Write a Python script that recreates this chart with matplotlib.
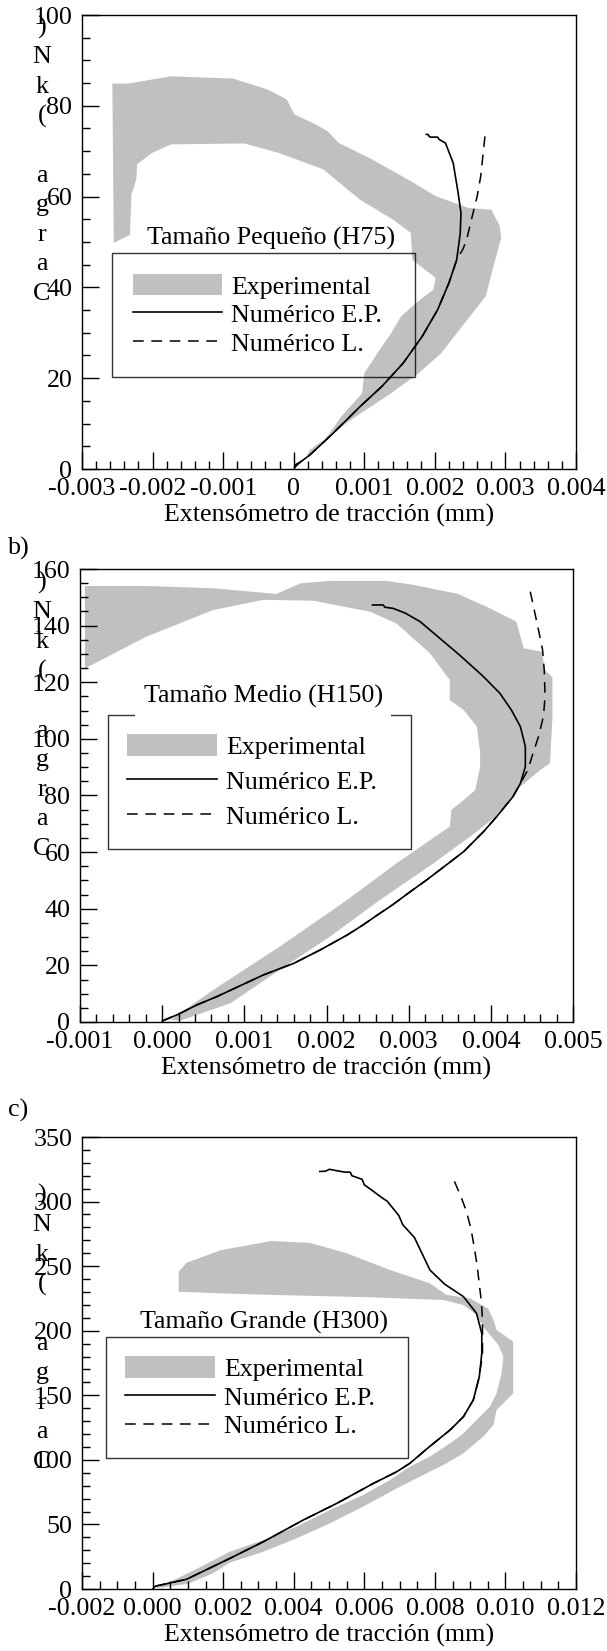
import matplotlib
matplotlib.use('Agg')
import matplotlib.pyplot as plt
from matplotlib.patches import Patch
from matplotlib.lines import Line2D
from matplotlib.ticker import MultipleLocator, FuncFormatter

plt.rcParams['font.family'] = ['Liberation Serif', 'DejaVu Serif']
plt.rcParams['axes.unicode_minus'] = False
FS = 18.7
GREY = '#c0c0c0'

# ---------------- panel a) H75 ----------------
exp_a_x = [0.00018, 0.00023, 0.00081, 0.00138, 0.00177, 0.00209, 0.00242, 0.00272, 0.00283, 0.00294,
           0.00292, 0.00280, 0.00248, 0.00201, 0.00166, 0.00111, 0.00064, 0.00048, 0.00031, 0.00001,
           -0.00010, -0.00037, -0.00086, -0.00174, -0.00234, -0.00257, -0.00255, -0.00232, -0.00230,
           -0.00223, -0.00222, -0.00201, -0.00174, -0.00070, -0.00021, 0.00042, 0.00094, 0.00141,
           0.00166, 0.00168, 0.00201, 0.00198, 0.00179, 0.00152, 0.00138, 0.00122, 0.00100, 0.00097,
           0.00067, 0.00051, 0.00029]
exp_a_y = [2.7, 4.2, 10.8, 16.7, 21.1, 25.5, 32.1, 38.0, 44.6, 50.9,
           53.5, 57.1, 57.5, 60.1, 63.4, 68.2, 71.8, 74.4, 75.9, 78.1,
           81.4, 83.6, 86.0, 86.5, 84.9, 84.9, 49.8, 51.6, 60.4,
           63.8, 67.1, 69.6, 71.5, 71.7, 69.6, 66.0, 59.3, 54.9,
           52.0, 46.1, 42.1, 39.5, 37.3, 33.6, 29.9, 26.3, 21.1, 16.7,
           11.5, 7.9, 3.8]
ep_a_x = [0.00001, 0.00003, 0.00010, 0.00023, 0.00056, 0.00094, 0.00125, 0.00155, 0.00182, 0.00204,
          0.00220, 0.00231, 0.00236, 0.00237, 0.00233, 0.00226, 0.00215, 0.00206, 0.00204, 0.00193,
          0.00190, 0.00188]
ep_a_y = [0.3, 1.0, 1.6, 3.1, 7.9, 13.75, 18.2, 23.3, 29.2, 35.1,
          41.0, 46.1, 52.0, 56.4, 60.8, 67.4, 71.8, 72.6, 73.1, 73.1,
          73.7, 73.7]
lin_a_x = [0.00001, 0.00010, 0.00023, 0.00056, 0.00094, 0.00125, 0.00155, 0.00182, 0.00204, 0.00220,
           0.00231, 0.00240, 0.00245, 0.00253, 0.00260, 0.00265, 0.00271]
lin_a_y = [0.3, 1.6, 3.1, 7.9, 13.75, 18.2, 23.3, 29.2, 35.1, 41.0,
           46.1, 48.5, 50.5, 55.7, 60.1, 64.5, 73.3]

# ---------------- panel b) H150 ----------------
exp_b_x = [-0.00094, -0.00019, 0.00062, 0.00139, 0.00168, 0.00204, 0.00273, 0.00306, 0.00360, 0.00399,
           0.00431, 0.00440, 0.00462, 0.00466, 0.00475, 0.00475, 0.00472, 0.00460, 0.00431, 0.00423,
           0.00403, 0.00375, 0.00330, 0.00265, 0.00204, 0.00143, 0.00083, 0.00022, 0.00010,
           0.00062, 0.00143, 0.00225, 0.00285, 0.00350, 0.00352, 0.00367, 0.00381, 0.00387, 0.00387,
           0.00383, 0.00367, 0.00350, 0.00350, 0.00326, 0.00285, 0.00253, 0.00184, 0.00123, 0.00062,
           -0.00019, -0.00094]
exp_b_y = [154.0, 154.0, 153.2, 151.2, 154.9, 155.8, 155.8, 154.4, 151.2, 146.1,
           141.4, 132.0, 130.8, 124.3, 121.7, 107.9, 91.4, 89.0, 81.9, 78.4,
           71.9, 65.5, 56.0, 43.1, 30.1, 18.4, 6.6, 0.5, 0.7,
           11.3, 26.6, 43.1, 56.0, 69.0, 74.9, 78.4, 81.9, 90.2, 94.9,
           104.3, 110.2, 113.7, 120.8, 130.2, 140.8, 144.9, 148.8, 149.1, 145.5,
           136.1, 124.9]
ep_b_x = [0.00000, 0.00004, 0.00018, 0.00042, 0.00066, 0.00123, 0.00160, 0.00192, 0.00225, 0.00243,
          0.00261, 0.00280, 0.00300, 0.00322, 0.00346, 0.00367, 0.00391, 0.00407, 0.00427, 0.00436,
          0.00442, 0.00442, 0.00436, 0.00425, 0.00411, 0.00391, 0.00362, 0.00338, 0.00314, 0.00296,
          0.00281, 0.00271, 0.00269, 0.00256]
ep_b_y = [0.3, 0.9, 2.5, 6.0, 8.9, 16.6, 20.7, 25.4, 30.7, 34.0,
          37.6, 41.3, 45.6, 50.2, 55.5, 60.2, 67.2, 72.5, 79.6, 84.3,
          90.2, 97.3, 104.3, 110.2, 116.1, 122.0, 129.6, 135.5, 141.4, 144.4,
          146.1, 146.5, 147.3, 147.3]
lin_b_x = [0.00000, 0.00018, 0.00042, 0.00066, 0.00123, 0.00160, 0.00192, 0.00225, 0.00243, 0.00261,
           0.00280, 0.00300, 0.00322, 0.00346, 0.00367, 0.00391, 0.00407, 0.00427, 0.00436, 0.00445,
           0.00450, 0.00458, 0.00464, 0.00466, 0.00465, 0.00463, 0.00458, 0.00448]
lin_b_y = [0.3, 2.5, 6.0, 8.9, 16.6, 20.7, 25.4, 30.7, 34.0, 37.6,
           41.3, 45.6, 50.2, 55.5, 60.2, 67.2, 72.5, 79.6, 84.3, 89.0,
           93.7, 100.8, 107.9, 114.9, 124.3, 131.4, 138.5, 152.0]

# ---------------- panel c) H300 ----------------
exp_c_x = [0.00009, 0.00100, 0.00170, 0.00219, 0.00314, 0.00408, 0.00503, 0.00597, 0.00692, 0.00767,
           0.00833, 0.00881, 0.00937, 0.00966, 0.00975, 0.01022, 0.01022, 0.00975, 0.00966, 0.00951,
           0.00899, 0.00833, 0.00786, 0.00673, 0.00550, 0.00446, 0.00337, 0.00194, 0.00096, 0.00074,
           0.00074, 0.00300, 0.00600, 0.00824, 0.00881, 0.00918, 0.00937, 0.00980, 0.00994, 0.00989,
           0.00975, 0.00956, 0.00918, 0.00881, 0.00843, 0.00786, 0.00729, 0.00673, 0.00597, 0.00503,
           0.00408, 0.00314, 0.00219, 0.00150, 0.00080, 0.00020]
exp_c_y = [0.5, 4.0, 12.0, 20.4, 28.9, 39.2, 50.9, 63.8, 77.9, 88.3,
           97.3, 105.1, 118.0, 127.0, 138.6, 151.5, 191.5, 200.6, 208.3, 217.2,
           225.1, 227.7, 236.7, 247.0, 260.0, 268.0, 269.5, 262.4, 252.6, 245.6,
           230.1, 228.0, 226.0, 223.8, 219.9, 212.2, 203.1, 188.9, 179.9, 167.0,
           151.5, 141.2, 130.9, 120.5, 112.8, 102.5, 94.7, 84.4, 72.8, 61.2,
           48.3, 37.9, 28.9, 19.0, 9.5, 2.0]
ep_c_x = [0.00002, 0.00008, 0.00096, 0.00219, 0.00314, 0.00427, 0.00522, 0.00626, 0.00692, 0.00729,
          0.00786, 0.00843, 0.00881, 0.00909, 0.00926, 0.00933, 0.00933, 0.00918, 0.00881, 0.00828,
          0.00786, 0.00742, 0.00709, 0.00698, 0.00665, 0.00650, 0.00640, 0.00622, 0.00600, 0.00594,
          0.00565, 0.00560, 0.00545, 0.00520, 0.00501, 0.00490, 0.00474]
ep_c_y = [0.5, 2.2, 7.5, 23.7, 36.6, 53.4, 66.3, 81.8, 90.8, 97.3,
          110.5, 123.1, 133.4, 146.4, 164.4, 182.5, 197.9, 213.5, 226.4, 236.0,
          247.0, 272.2, 282.1, 289.1, 300.3, 303.0, 305.0, 308.7, 313.0, 317.2,
          320.0, 322.8, 322.8, 324.0, 325.0, 323.5, 323.3]
lin_c_x = [0.00008, 0.00096, 0.00219, 0.00314, 0.00427, 0.00522, 0.00626, 0.00692, 0.00729, 0.00786,
           0.00843, 0.00881, 0.00909, 0.00926, 0.00935, 0.00935, 0.00932, 0.00926, 0.00920, 0.00912,
           0.00903, 0.00890, 0.00875, 0.00855]
lin_c_y = [2.2, 7.5, 23.7, 36.6, 53.4, 66.3, 81.8, 90.8, 97.3, 110.5,
           123.1, 133.4, 146.4, 164.4, 182.0, 208.0, 222.0, 236.0, 250.0, 264.0,
           278.0, 292.0, 303.0, 316.0]

legend_labels = ['Experimental', 'Numérico E.P.', 'Numérico L.']
ylabel_chars = 'Carga (kN)'
xlabel_text = 'Extensómetro de tracción (mm)'

W, H = 607, 1651
fig = plt.figure(figsize=(W / 100, H / 100), dpi=100)


def fmt_x(zero_as_int):
    def f(v, pos):
        if abs(v) < 1e-12:
            return '0' if zero_as_int else '0.000'
        return '%.3f' % v
    return FuncFormatter(f)


def panel(box, bx, by, ex, ey, lx, ly, xlim, ylim, xmaj, xmin, ymaj, ymin, zero_int,
          title, title_pos, title_bg, leg_anchor, leg_pad, leg_space, ylab_base):
    l, t, r, b = box
    ax = fig.add_axes([l / W, 1 - b / H, (r - l) / W, (b - t) / H])
    ax.fill(bx, by, color=GREY, lw=0, zorder=1)
    ax.plot(lx, ly, color='black', lw=1.1, dashes=(7, 5), zorder=2)
    ax.plot(ex, ey, color='black', lw=1.2, zorder=3)
    ax.set_xlim(*xlim)
    ax.set_ylim(*ylim)
    ax.xaxis.set_major_locator(MultipleLocator(xmaj))
    ax.xaxis.set_minor_locator(MultipleLocator(xmin))
    ax.yaxis.set_major_locator(MultipleLocator(ymaj))
    ax.yaxis.set_minor_locator(MultipleLocator(ymin))
    ax.xaxis.set_major_formatter(fmt_x(zero_int))
    ax.tick_params(which='both', direction='in', top=False, right=False, width=1.0,
                   labelsize=FS, colors='black')
    ax.tick_params(which='major', length=12)
    ax.tick_params(which='minor', length=6)
    ax.tick_params(axis='y', pad=7)
    ax.tick_params(axis='x', pad=6.5)
    for s in ax.spines.values():
        s.set_linewidth(1.0)
    ax.set_xlabel(xlabel_text, fontsize=FS, labelpad=2.5)

    bbox = dict(facecolor='white', edgecolor='none', pad=6) if title_bg else None
    ax.text(title_pos[0], title_pos[1], title, transform=ax.transAxes, fontsize=FS,
            ha='center', va='center', bbox=bbox, zorder=6)

    handles = [Patch(facecolor=GREY, edgecolor='none'),
               Line2D([], [], color='black', lw=1.2),
               Line2D([], [], color='black', lw=1.1, dashes=(7, 5))]
    x0, x1, top = leg_anchor
    leg = ax.legend(handles, legend_labels, loc='upper left', bbox_to_anchor=(x0, 0, x1 - x0, top),
                    mode='expand', fontsize=FS, frameon=True, fancybox=False, shadow=False,
                    borderaxespad=0, borderpad=leg_pad, labelspacing=leg_space,
                    handlelength=3.45, handleheight=0.9, handletextpad=0.35)
    fr = leg.get_frame()
    fr.set_edgecolor('black')
    fr.set_facecolor('none')
    fr.set_linewidth(1.0)
    leg.set_zorder(5)

    # y label: one upright character per line, read bottom to top
    for i, ch in enumerate(ylabel_chars):
        yb = ylab_base - i * 29.6
        fig.text(42 / W, 1 - yb / H, ch, fontsize=FS, ha='center', va='baseline')
    return ax


panel((82, 15, 576, 469), exp_a_x, exp_a_y, ep_a_x, ep_a_y, lin_a_x, lin_a_y,
      (-0.003, 0.004), (0, 100), 0.001, 0.0002, 20, 5, True,
      'Tamaño Pequeño (H75)', (0.3834, 0.5088), False, (0.0607, 0.674, 0.4758), 0.8, 0.15, 300)

panel((80, 569, 573, 1022), exp_b_x, exp_b_y, ep_b_x, ep_b_y, lin_b_x, lin_b_y,
      (-0.001, 0.005), (0, 160), 0.001, 0.0002, 20, 5, False,
      'Tamaño Medio (H150)', (0.3718, 0.7181), True, (0.0568, 0.671, 0.678), 0.75, 0.4, 855)

panel((82, 1137, 576, 1589), exp_c_x, exp_c_y, ep_c_x, ep_c_y, lin_c_x, lin_c_y,
      (-0.002, 0.012), (0, 350), 0.002, 0.0005, 50, 10, False,
      'Tamaño Grande (H300)', (0.3678, 0.5907), False, (0.0486, 0.66, 0.5575), 0.75, 0.15, 1468)

fig.text(8 / W, 1 - 548 / H, 'b)', fontsize=FS, ha='left', va='center')
fig.text(8 / W, 1 - 1110 / H, 'c)', fontsize=FS, ha='left', va='center')

fig.savefig('out.png', dpi=100)
